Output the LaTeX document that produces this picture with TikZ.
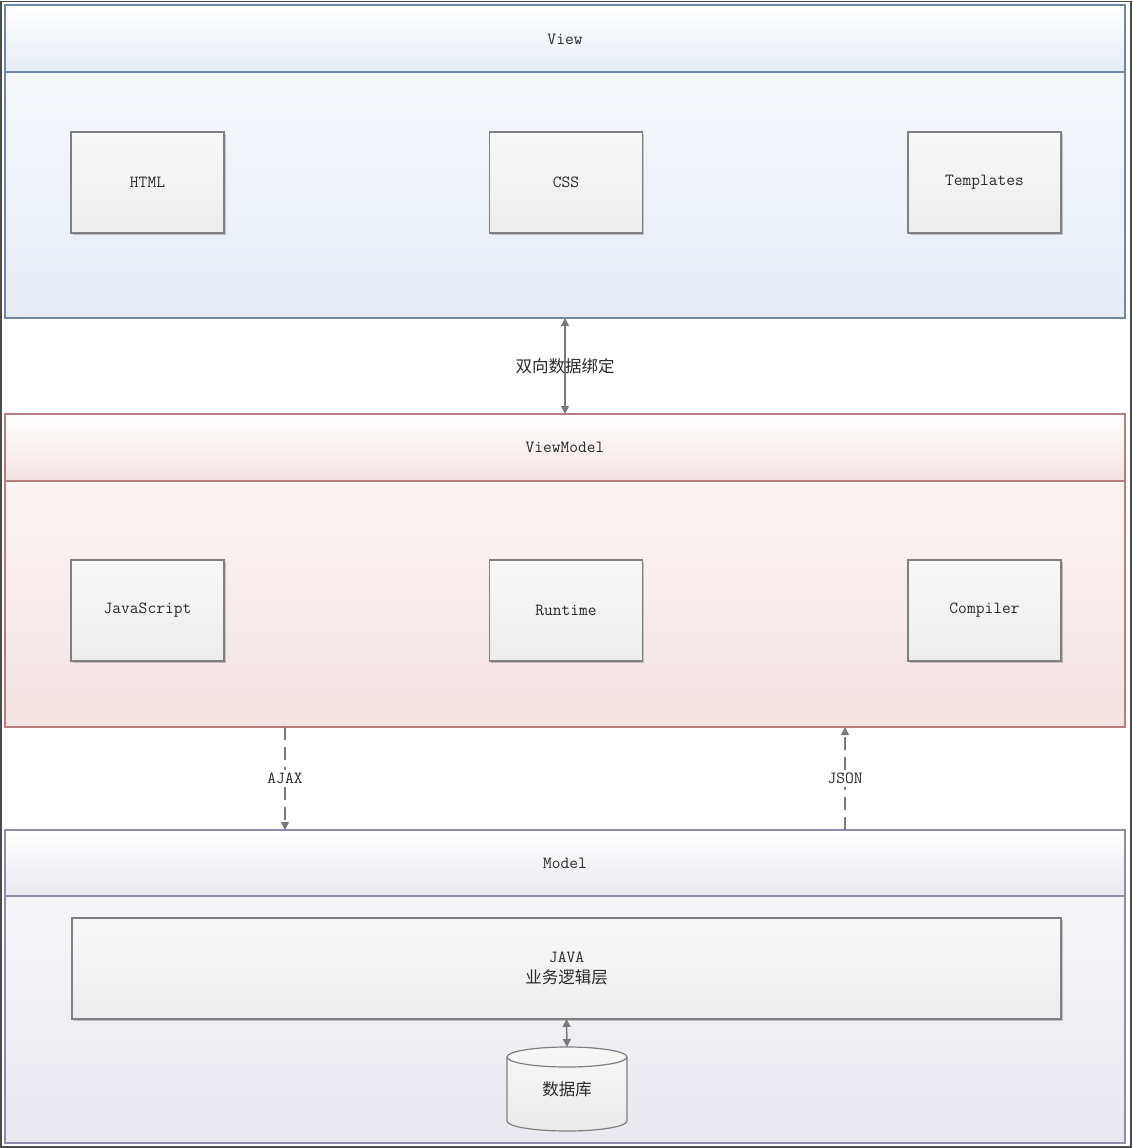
\documentclass[tikz,border=0pt]{standalone}
\usepackage{fontspec}
\newfontfamily\cjk{Noto Sans CJK SC}
\newcommand{\mymono}{\ttfamily}
\usetikzlibrary{arrows.meta,shadows}
\definecolor{txt}{HTML}{2A2A2A}
\definecolor{viewborder}{HTML}{6F87A9}
\definecolor{viewtop}{HTML}{FAFBFD}
\definecolor{viewbot}{HTML}{E6ECF5}
\definecolor{vmborder}{HTML}{B87C7C}
\definecolor{vmtop}{HTML}{FCF8F8}
\definecolor{vmbot}{HTML}{F3E3E3}
\definecolor{mborder}{HTML}{8E8CA8}
\definecolor{mtop}{HTML}{F9F9FB}
\definecolor{mbot}{HTML}{E9E8EF}
\definecolor{boxborder}{HTML}{7F7F7F}
\definecolor{arrowcol}{HTML}{7A7A7A}
\begin{document}
\begin{tikzpicture}[x=1pt,y=-1pt,
  panel/.style={inner sep=0pt, outer sep=0pt, minimum width=1120pt, minimum height=313pt},
  titletext/.style={font=\mymono\fontsize{17}{20}\selectfont, text=txt},
  innerbox/.style={draw=boxborder, line width=1.2pt, top color=white!97!black, bottom color=white!93!black,
     minimum width=153pt, minimum height=101pt, inner sep=0pt, outer sep=0pt,
     font=\mymono\fontsize{17}{20}\selectfont, text=txt,
     drop shadow={shadow xshift=1.5pt, shadow yshift=-1.5pt, opacity=0.2, fill=black}},
  biarrow/.style={draw=arrowcol, line width=1.5pt, {Triangle[width=8pt,length=8pt]}-{Triangle[width=8pt,length=8pt]}},
  dasharrow/.style={draw=arrowcol, line width=1.5pt, dash pattern=on 13pt off 7pt, -{Triangle[width=8pt,length=8pt]}},
  cjklabel/.style={font=\cjk\fontsize{16.5}{20}\selectfont, text=txt},
  monolabel/.style={font=\mymono\fontsize{17}{20}\selectfont, text=txt, fill=white, inner sep=3pt}
]
\useasboundingbox (0,0) rectangle (1132,1148);
\fill[white] (0,0) rectangle (1132,1148);
\draw[black!70, line width=1.5pt] (1,1.5) rectangle (1131,1147);

% ---------- View ----------
\node[panel, top color=viewtop, bottom color=viewbot] (view) at (565,161.5) {};
\shade[top color=white, bottom color=viewbot] (view.north west) rectangle ([yshift=-67pt]view.north east);
\draw[viewborder, line width=1.2pt] ([yshift=-67pt]view.north west) -- ([yshift=-67pt]view.north east);
\draw[viewborder, line width=1.2pt] (view.north west) rectangle (view.south east);
\node[titletext] (viewT) at (565,39) {View};
\node[innerbox] (html) at (147.5,182.5) {HTML};
\node[innerbox] (css) at (566,182.5) {CSS};
\node[innerbox] (tpl) at (984.5,182.5) {Templates};

% ---------- ViewModel ----------
\node[panel, top color=vmtop, bottom color=vmbot] (vm) at (565,570.5) {};
\shade[top color=white, bottom color=vmbot] (vm.north west) rectangle ([yshift=-67pt]vm.north east);
\draw[vmborder, line width=1.2pt] ([yshift=-67pt]vm.north west) -- ([yshift=-67pt]vm.north east);
\draw[vmborder, line width=1.2pt] (vm.north west) rectangle (vm.south east);
\node[titletext] (vmT) at (565,447) {ViewModel};
\node[innerbox] (js) at (147.5,610.5) {JavaScript};
\node[innerbox] (rt) at (566,610.5) {Runtime};
\node[innerbox] (comp) at (984.5,610.5) {Compiler};

% ---------- Model ----------
\node[panel, top color=mtop, bottom color=mbot] (model) at (565,986.5) {};
\shade[top color=white, bottom color=mbot] (model.north west) rectangle ([yshift=-66pt]model.north east);
\draw[mborder, line width=1.2pt] ([yshift=-66pt]model.north west) -- ([yshift=-66pt]model.north east);
\draw[mborder, line width=1.2pt] (model.north west) rectangle (model.south east);
\node[titletext] (mT) at (565,863) {Model};
\node[innerbox, minimum width=989pt, align=center] (java) at (566.5,968.5)
  {JAVA\\[1pt]{\cjk\fontsize{16.5}{20}\selectfont 业务逻辑层}};

% database cylinder
\node[minimum width=120pt, minimum height=84pt, inner sep=0pt, outer sep=0pt] (db) at (567,1089) {};
\path[fill=black, opacity=0.15, xshift=1.5pt, yshift=-1.5pt]
  ([yshift=-10pt]db.north west) -- ([yshift=10pt]db.south west) arc(180:360:60pt and 10pt)
  -- ([yshift=-10pt]db.north east) arc(0:180:60pt and 10pt) -- cycle;
\draw[boxborder, line width=1.2pt, top color=white!97!black, bottom color=white!92!black]
  ([yshift=-10pt]db.north west) -- ([yshift=10pt]db.south west) arc(180:360:60pt and 10pt)
  -- ([yshift=-10pt]db.north east) arc(0:180:60pt and 10pt) -- cycle;
\draw[boxborder, line width=1.2pt] ([yshift=-10pt]db.north west) arc(180:360:60pt and 10pt);
\node[cjklabel] (dbT) at (567,1089) {数据库};

% ---------- connectors ----------
\draw[biarrow] (view.south) -- node[cjklabel] {双向数据绑定} (vm.north);
\draw[dasharrow] ([xshift=-280pt]vm.south) -- node[monolabel] {AJAX} ([xshift=-280pt]model.north);
\draw[dasharrow] ([xshift=280pt]model.north) -- node[monolabel] {JSON} ([xshift=280pt]vm.south);
\draw[biarrow] (java.south) -- (db.north);
\end{tikzpicture}
\end{document}
